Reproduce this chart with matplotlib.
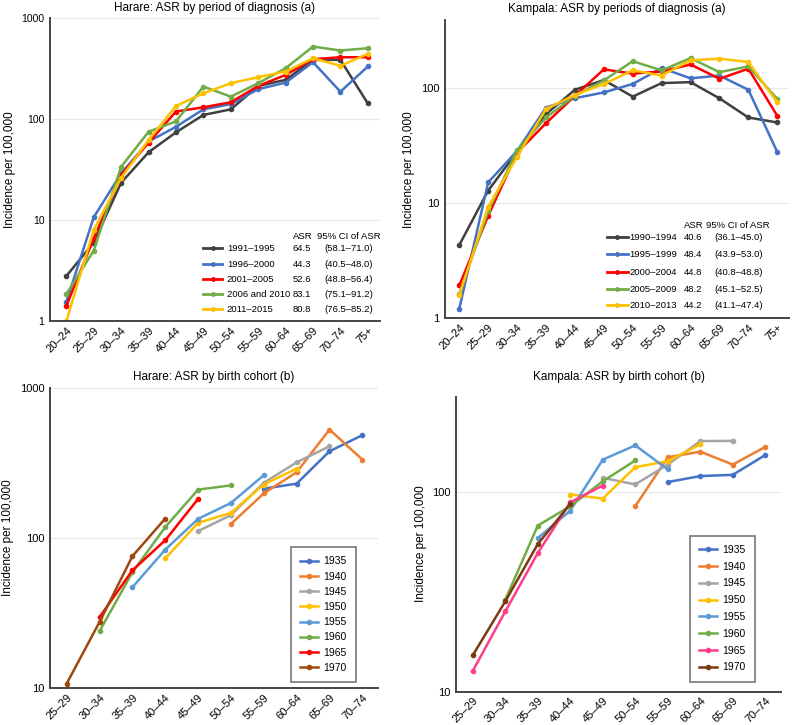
import matplotlib
matplotlib.use("Agg")
import matplotlib.pyplot as plt
import numpy as np
from matplotlib.ticker import FixedLocator, NullLocator

plt.rcParams['font.family'] = ['Liberation Sans', 'DejaVu Sans']

# ---- data -------------------------------------------------------------
age_groups = ["20–24", "25–29", "30–34", "35–39", "40–44", "45–49",
              "50–54", "55–59", "60–64", "65–69", "70–74", "75+"]
cohort_ages = ["25–29", "30–34", "35–39", "40–44", "45–49",
               "50–54", "55–59", "60–64", "65–69", "70–74"]

harare_periods = ["1991–1995", "1996–2000", "2001–2005", "2006 and 2010", "2011–2015"]
harare_asr = ["64.5", "44.3", "52.6", "83.1", "80.8"]
harare_ci = ["(58.1–71.0)", "(40.5–48.0)", "(48.8–56.4)", "(75.1–91.2)", "(76.5–85.2)"]
harare_period_vals = [
    [2.8, 6.0, 23.5, 47, 74, 110, 125, 213, 245, 386, 386, 143],
    [1.55, 10.7, 29, 60, 84, 125, 141, 198, 230, 366, 187, 332],
    [1.42, 6.6, 28, 58.5, 119, 131, 147, 213, 274, 392, 410, 410],
    [1.85, 5.0, 33.8, 75, 95, 210, 167, 227, 319, 523, 478, 504],
    [1.0, 8.0, 26.3, 62, 135, 180, 227, 260, 296, 401, 337, 443],
]

kampala_periods = ["1990–1994", "1995–1999", "2000–2004", "2005–2009", "2010–2013"]
kampala_asr = ["40.6", "48.4", "44.8", "48.2", "44.2"]
kampala_ci = ["(36.1–45.0)", "(43.9–53.0)", "(40.8–48.8)", "(45.1–52.5)", "(41.1–47.4)"]
kampala_period_vals = [
    [4.33, 12.9, 28, 59.6, 97, 118, 84.6, 111, 113, 81.7, 55.7, 50.4],
    [1.21, 15.2, 28.5, 68, 82, 92, 109, 150, 122, 129, 97, 27.9],
    [1.93, 7.77, 27.5, 49.7, 86, 146, 134, 140, 161, 121, 148, 57.6],
    [1.63, 8.5, 29, 55.7, 86, 117, 172, 143, 183, 138, 155, 80.7],
    [1.58, 9.3, 25.4, 66, 87.5, 109, 143, 129, 175, 181, 169, 75.4],
]
period_colors = ["#404040", "#4472C4", "#FF0000", "#70AD47", "#FFC000"]

cohorts = ["1935", "1940", "1945", "1950", "1955", "1960", "1965", "1970"]
# values per cohort, aligned with cohort_ages (None = not observed)
N = None
harare_cohort_vals = [
    [N, N, N, N, N, N, 213, 230, 378, 484],
    [N, N, N, N, N, 124, 198, 274, 527, 333],
    [N, N, N, N, 111, 142, 233, 319, 408, N],
    [N, N, N, 73, 126, 147, 227, 290, N, N],
    [N, N, 46.9, 83.6, 134, 171, 262, N, N, N],
    [N, 23.9, 59, 118, 210, 224, N, N, N, N],
    [N, 29.6, 60.8, 96.4, 182, N, N, N, N, N],
    [10.7, 27.5, 75.5, 134.6, N, N, N, N, N, N],
]
kampala_cohort_vals = [
    [N, N, N, N, N, N, 112, 120, 121.7, 153],
    [N, N, N, N, N, 84.8, 149, 159, 137, 168],
    [N, N, N, N, 117.5, 109, 137, 179.6, 180, N],
    [N, N, N, 97, 92.6, 133, 142.5, 172.8, N, N],
    [N, N, 58.7, 80.6, 145, 171, 129.5, N, N, N],
    [N, 28.8, 67.8, 84.8, 113, 143.6, N, N, N, N],
    [12.7, 25.2, 49.4, 88.7, 107.6, N, N, N, N, N],
    [15.2, 28.3, 54.8, 87, N, N, N, N, N, N],
]
harare_cohort_colors = ["#4472C4", "#ED7D31", "#A5A5A5", "#FFC000",
                        "#5B9BD5", "#70AD47", "#FF0000", "#9E480E"]
kampala_cohort_colors = ["#4472C4", "#ED7D31", "#A5A5A5", "#FFC000",
                         "#5B9BD5", "#70AD47", "#FF3D8B", "#7B3A10"]


def style_axes(ax, labels, ylim, yticks, xlim, ytick_size=8):
    ax.set_yscale("log")
    ax.set_ylim(*ylim)
    ax.set_xlim(*xlim)
    ax.yaxis.set_major_locator(FixedLocator(yticks))
    ax.yaxis.set_minor_locator(NullLocator())
    ax.set_yticklabels([str(t) for t in yticks])
    ax.set_xticks(range(len(labels)))
    ax.set_xticklabels(labels, rotation=45, ha="right", rotation_mode="anchor")
    ax.tick_params(length=0)
    ax.tick_params(axis="x", labelsize=8, pad=3)
    ax.tick_params(axis="y", labelsize=ytick_size, pad=4)
    for s in ("top", "right"):
        ax.spines[s].set_visible(False)
    for s in ("left", "bottom"):
        ax.spines[s].set_color("#444444")
        ax.spines[s].set_linewidth(1.4)
    ax.grid(axis="y", color="#e8e8e8", linewidth=0.9)
    ax.set_axisbelow(True)
    ax.set_ylabel("Incidence per 100,000", fontsize=8.5)


def period_table(ax, periods, asr, ci, colors, x0, x1, xl, xa, xc, xh, yh, rows):
    fs = 6.8
    ax.text(xa, yh, "ASR", transform=ax.transAxes, fontsize=fs, va="center")
    ax.text(xh, yh, "95% CI of ASR", transform=ax.transAxes, fontsize=fs, va="center")
    for i, (p, a, c, col) in enumerate(zip(periods, asr, ci, colors)):
        y = rows[i]
        ax.plot([x0, x1], [y, y], color=col, lw=2, transform=ax.transAxes,
                clip_on=False)
        ax.plot([(x0 + x1) / 2], [y], "o", color=col, ms=2.5,
                transform=ax.transAxes, clip_on=False)
        ax.text(xl, y, p, transform=ax.transAxes, fontsize=fs, va="center")
        ax.text(xa, y, a, transform=ax.transAxes, fontsize=fs, va="center")
        ax.text(xc, y, c, transform=ax.transAxes, fontsize=fs, va="center")


def cohort_legend(ax, anchor, spacing):
    leg = ax.legend(loc="upper left", bbox_to_anchor=anchor, borderaxespad=0,
                    fontsize=7.5, frameon=True, fancybox=False,
                    edgecolor="#555555", handlelength=1.7, handletextpad=0.5,
                    labelspacing=spacing, borderpad=0.9)
    leg.get_frame().set_linewidth(1.2)


fig = plt.figure(figsize=(7.92, 7.25), dpi=100)

# ---- top left ----
ax1 = fig.add_axes([0.063, 0.557, 0.417, 0.418])
x = np.arange(len(age_groups))
for vals, col in zip(harare_period_vals, period_colors):
    ax1.plot(x, vals, color=col, lw=1.8, marker="o", ms=3)
style_axes(ax1, age_groups, (1, 1000), [1, 10, 100, 1000], (-0.6, 11.45), 7.5)
ax1.set_title("Harare: ASR by period of diagnosis (a)", fontsize=8.5, pad=5)
period_table(ax1, harare_periods, harare_asr, harare_ci, period_colors,
             0.464, 0.521, 0.536, 0.736, 0.83, 0.81, 0.28,
             [0.241, 0.188, 0.139, 0.089, 0.04])

# ---- top right ----
ax2 = fig.add_axes([0.562, 0.561, 0.434, 0.411])
for vals, col in zip(kampala_period_vals, period_colors):
    ax2.plot(x, vals, color=col, lw=1.8, marker="o", ms=3)
style_axes(ax2, age_groups, (1, 390), [1, 10, 100], (-0.49, 11.4))
ax2.set_title("Kampala: ASR by periods of diagnosis (a)", fontsize=8.5, pad=6)
period_table(ax2, kampala_periods, kampala_asr, kampala_ci, period_colors,
             0.471, 0.532, 0.537, 0.695, 0.782, 0.76, 0.312,
             [0.272, 0.215, 0.154, 0.097, 0.044])

# ---- bottom left ----
ax3 = fig.add_axes([0.063, 0.051, 0.414, 0.414])
xc = np.arange(len(cohort_ages))
for name, vals, col in zip(cohorts, harare_cohort_vals, harare_cohort_colors):
    v = np.array([np.nan if a is None else a for a in vals], dtype=float)
    ax3.plot(xc, v, color=col, lw=1.8, marker="o", ms=3, label=name)
style_axes(ax3, cohort_ages, (10, 1000), [10, 100, 1000], (-0.51, 9.47))
ax3.set_title("Harare: ASR by birth cohort (b)", fontsize=8.5, pad=6)
cohort_legend(ax3, (0.735, 0.47), 0.5)

# ---- bottom right ----
ax4 = fig.add_axes([0.576, 0.046, 0.410, 0.407])
for name, vals, col in zip(cohorts, kampala_cohort_vals, kampala_cohort_colors):
    v = np.array([np.nan if a is None else a for a in vals], dtype=float)
    ax4.plot(xc, v, color=col, lw=1.8, marker="o", ms=3, label=name)
style_axes(ax4, cohort_ages, (10, 300), [10, 100], (-0.51, 9.48))
ax4.set_title("Kampala: ASR by birth cohort (b)", fontsize=8.5, pad=12)
cohort_legend(ax4, (0.72, 0.529), 0.65)

fig.savefig("out.png", dpi=100)
